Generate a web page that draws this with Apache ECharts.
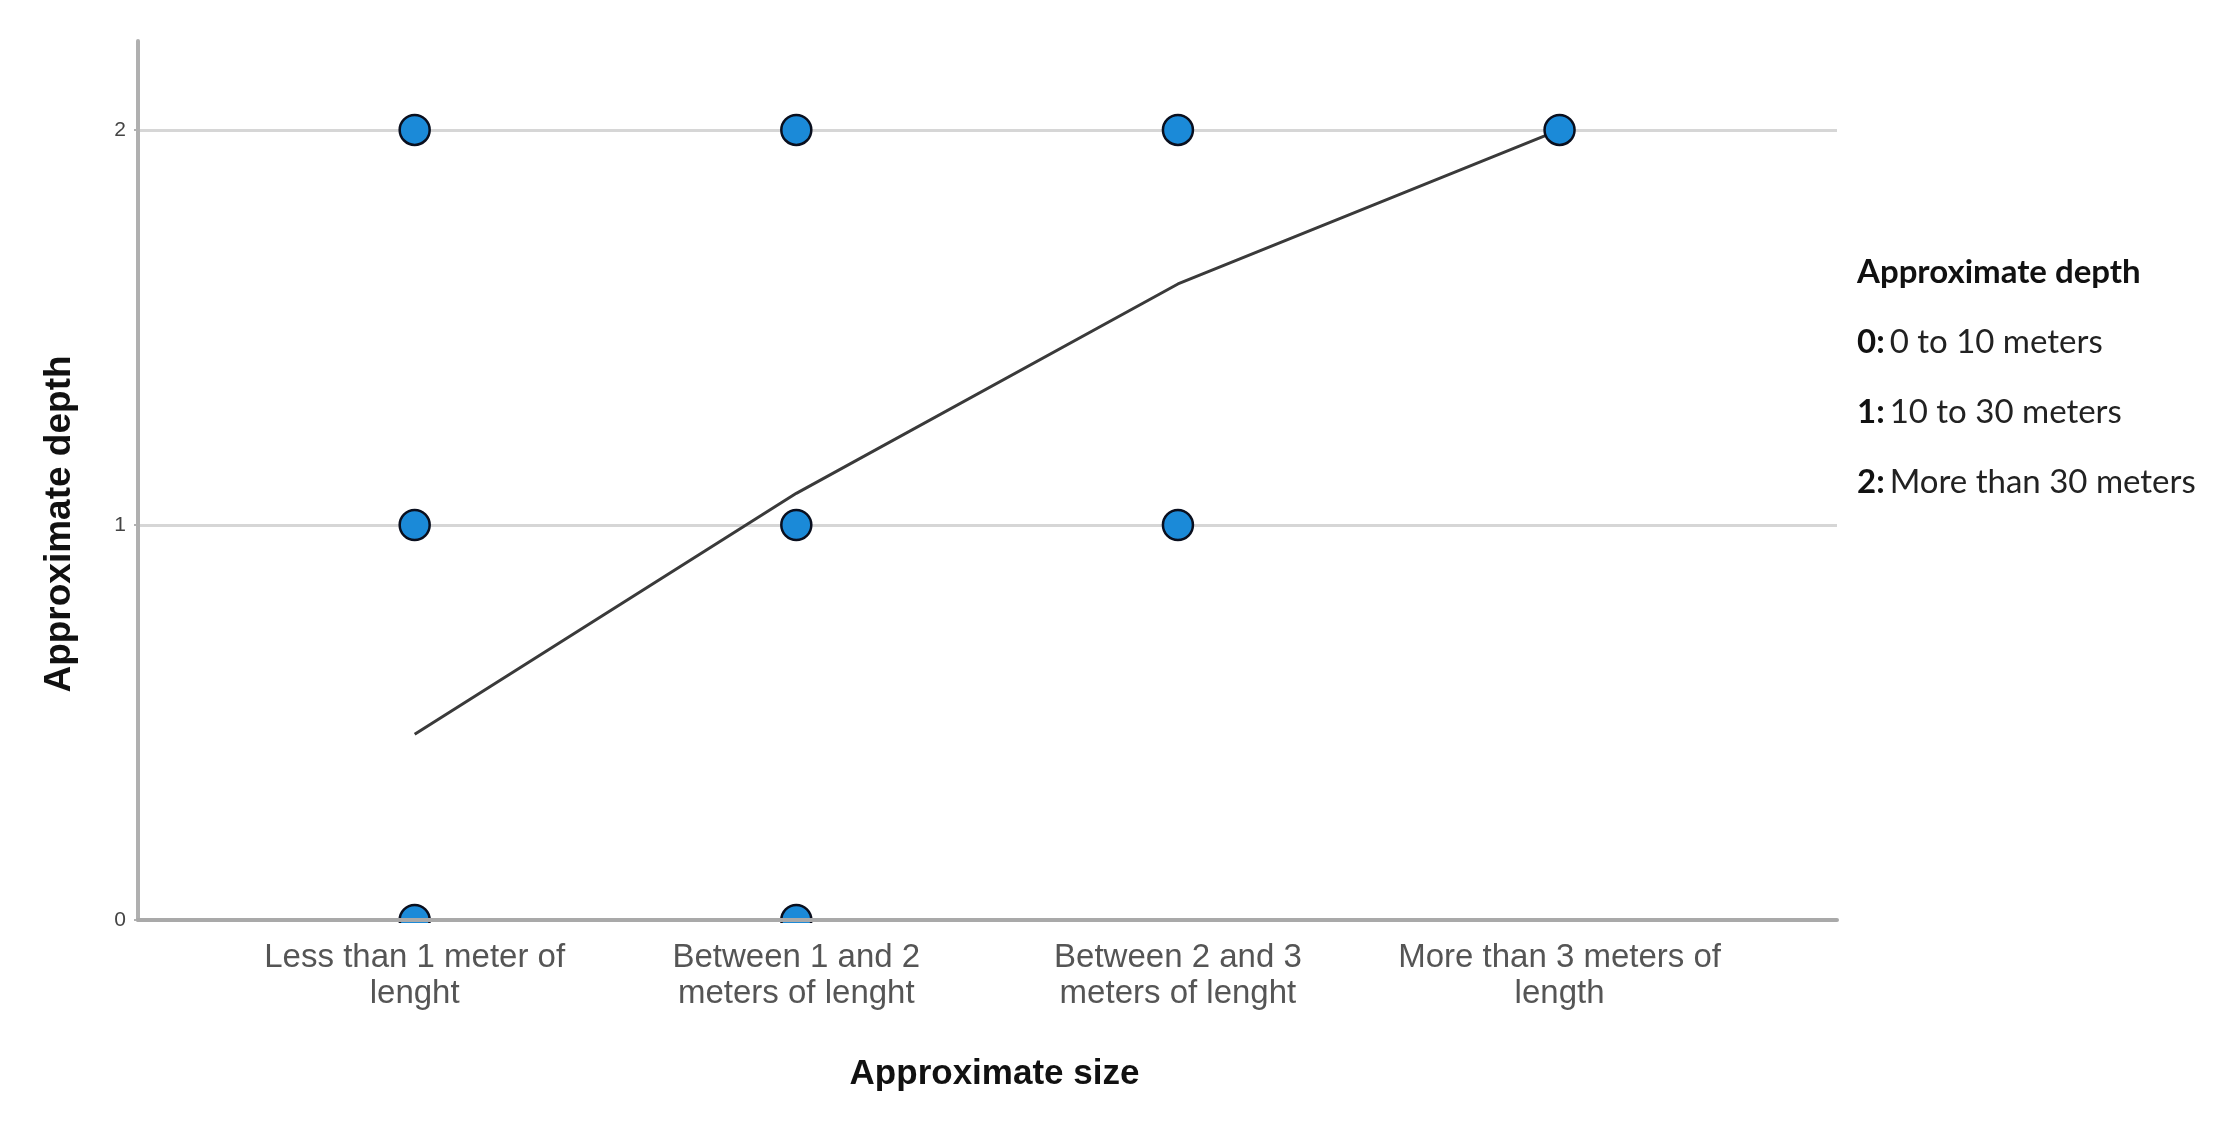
<!DOCTYPE html>
<html>
<head>
<meta charset="utf-8">
<script src="https://cdn.jsdelivr.net/npm/echarts@6/dist/echarts.min.js"></script>
<style>
html,body{margin:0;padding:0;background:#fff;}
#chart{width:2233px;height:1124px;}
</style>
</head>
<body>
<div id="chart"></div>
<script>
// ---- data ----
var categories = [
  'Less than 1 meter of\nlenght',
  'Between 1 and 2\nmeters of lenght',
  'Between 2 and 3\nmeters of lenght',
  'More than 3 meters of\nlength'
];
var pointCategory = [0, 0, 0, 1, 1, 1, 2, 2, 3];
var pointDepth    = [2, 1, 0, 2, 1, 0, 2, 1, 2];
var meanDepth = [0.47, 1.08, 1.61, 2.0];
var yTicks = [0, 1, 2];
var legendTitle = 'Approximate depth';
var legendKeys = ['0:', '1:', '2:'];
var legendTexts = ['0 to 10 meters', '10 to 30 meters', 'More than 30 meters'];

var scatterData = pointCategory.map(function (c, i) { return [c, pointDepth[i]]; });
var lineData = meanDepth.map(function (v, i) { return [i, v]; });
var legendLines = [ '{h|' + legendTitle + '}' ];
legendKeys.forEach(function (k, i) { legendLines.push('{b|' + k + '} {n|' + legendTexts[i] + '}'); });

var chart = echarts.init(document.getElementById('chart'), null, {renderer: 'canvas'});
chart.setOption({
  backgroundColor: '#ffffff',
  animation: false,
  grid: {left: 138, right: 396, top: 41, bottom: 204, containLabel: false},
  title: {
    left: 1852, top: 232,
    text: legendLines.join('\n'),
    textStyle: {
      lineHeight: 70,
      rich: {
        h: {fontFamily: 'Lato', fontWeight: 'bold', fontSize: 33, color: '#111', lineHeight: 70},
        b: {fontFamily: 'Lato', fontWeight: 'bold', fontSize: 33, color: '#111', lineHeight: 70},
        n: {fontFamily: 'Lato', fontWeight: 'normal', fontSize: 33, color: '#222', lineHeight: 70}
      }
    }
  },
  graphic: [{
    type: 'text', x: 60, y: 524, rotation: Math.PI / 2,
    style: {text: 'Approximate depth', fontFamily: 'Liberation Sans', fontWeight: 'bold', fontSize: 37,
      fill: '#111', textAlign: 'center', textVerticalAlign: 'middle'}
  }, {
    type: 'rect', z: 100,
    shape: {x: 140, y: 923, width: 1697, height: 18},
    style: {fill: '#ffffff'}
  }],
  xAxis: {
    type: 'value', min: -0.725, max: 3.727, z: 10,
    name: 'Approximate size', nameLocation: 'middle', nameGap: 137,
    nameTextStyle: {fontFamily: 'Liberation Sans', fontWeight: 'bold', fontSize: 35, color: '#111', padding: [0, 0, 0, 14]},
    axisLine: {show: true, onZero: false, lineStyle: {color: '#a9a9a9', width: 4}},
    axisTick: {show: false},
    splitLine: {show: false},
    axisLabel: {
      customValues: [0, 1, 2, 3], margin: 20,
      fontFamily: 'Liberation Sans', fontSize: 33, color: '#555', lineHeight: 36,
      formatter: function (v) { return categories[Math.round(v)] || ''; }
    }
  },
  yAxis: {
    type: 'value', min: 0, max: 2.225, interval: 1, z: 1,
    axisLine: {show: true, onZero: false, lineStyle: {color: '#b0b0b0', width: 4}},
    axisTick: {show: true, customValues: yTicks, length: 4, lineStyle: {color: '#b0b0b0', width: 2}},
    splitLine: {show: true, showMinLine: false, showMaxLine: true, lineStyle: {color: '#d6d6d6', width: 3}},
    axisLabel: {customValues: yTicks, margin: 12, fontFamily: 'Liberation Sans', fontSize: 21, color: '#444'}
  },
  series: [{
    type: 'line', data: lineData, symbol: 'none', z: 3,
    lineStyle: {color: '#3a3a3a', width: 3}
  }, {
    type: 'scatter', data: scatterData, symbol: 'circle', symbolSize: 30, z: 4, clip: true,
    itemStyle: {color: '#1b8ad8', borderColor: '#0a0f1e', borderWidth: 2.5, opacity: 1}
  }]
});
</script>
</body>
</html>
